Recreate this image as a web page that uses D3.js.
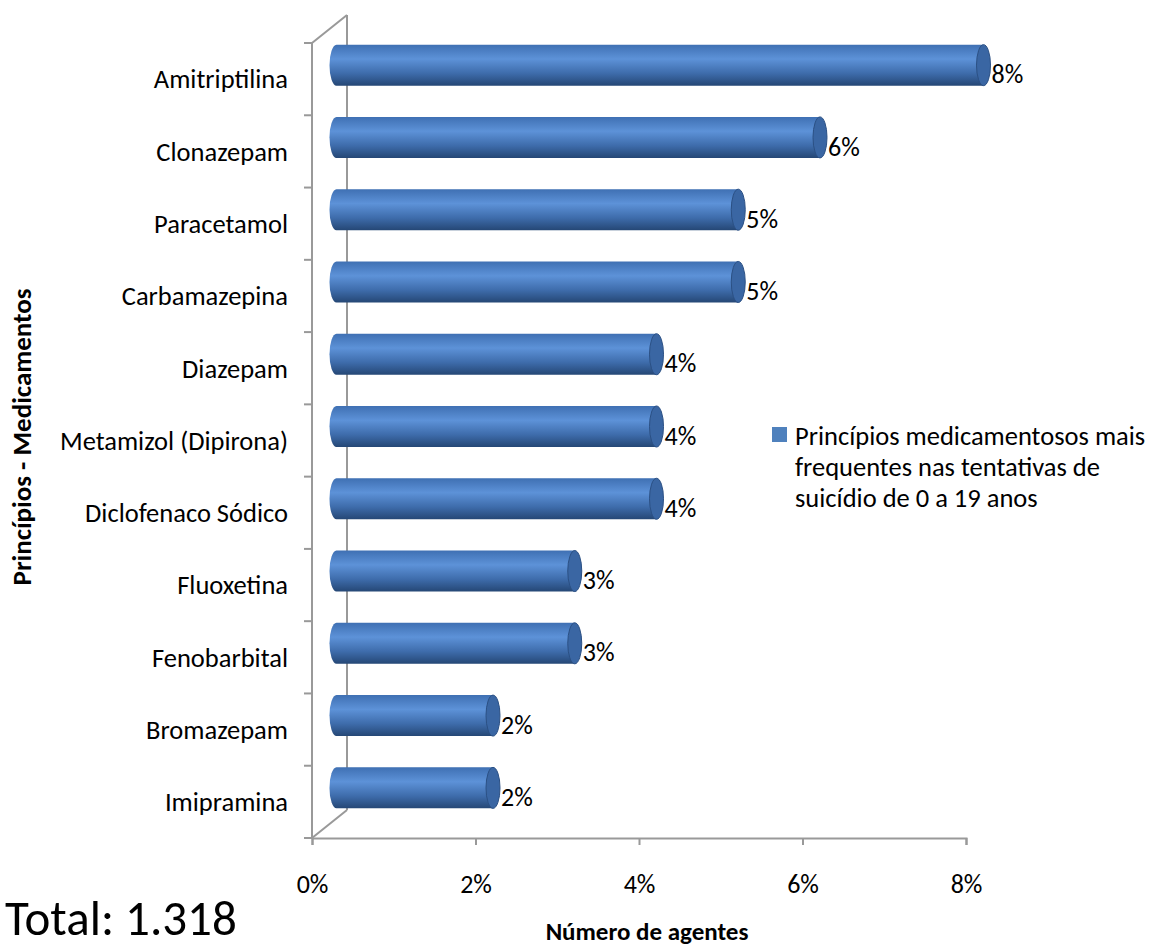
<!DOCTYPE html>
<html>
<head>
<meta charset="utf-8">
<script src="https://cdn.jsdelivr.net/npm/d3@7"></script>
<style>
  body { margin: 0; background: #fff; }
  text { font-family: Carlito, Calibri, "Open Sans", sans-serif; fill: #000; }
</style>
</head>
<body>
<script>
// chart data
let categories = ["Amitriptilina", "Clonazepam", "Paracetamol", "Carbamazepina", "Diazepam",
  "Metamizol (Dipirona)", "Diclofenaco Sódico", "Fluoxetina", "Fenobarbital", "Bromazepam", "Imipramina"]
let values = [8, 6, 5, 5, 4, 4, 4, 3, 3, 2, 2]
let valueLabels = ["8%", "6%", "5%", "5%", "4%", "4%", "4%", "3%", "3%", "2%", "2%"]
let xTicks = [0, 2, 4, 6, 8]
let legendLines = ["Princípios medicamentosos mais", "frequentes nas tentativas de", "suicídio de 0 a 19 anos"]

let width = 1151, height = 949

// 3d depth offset of the plot box
let dx = 35, dy = -28

let x = d3.scaleLinear().domain([0, 8]).range([312, 966])
let y = d3.scaleBand().domain(categories).range([43, 838])

let svg = d3.select("body").append("svg")
  .attr("width", width).attr("height", height)

let defs = svg.append("defs")
let grad = defs.append("linearGradient")
  .attr("id", "cyl").attr("x1", 0).attr("y1", 0).attr("x2", 0).attr("y2", 1)
grad.append("stop").attr("offset", "0%").attr("stop-color", "#3f70b3")
grad.append("stop").attr("offset", "35%").attr("stop-color", "#5d92d8")
grad.append("stop").attr("offset", "70%").attr("stop-color", "#3e6cab")
grad.append("stop").attr("offset", "100%").attr("stop-color", "#254775")

let axisColor = "#999"

// walls / depth lines
let walls = svg.append("g").attr("stroke", axisColor).attr("stroke-width", 2).attr("fill", "none")
walls.append("line").attr("x1", x(0)).attr("y1", 43).attr("x2", x(0)).attr("y2", 838)
walls.append("line").attr("x1", x(0) + dx).attr("y1", 43 + dy).attr("x2", x(0) + dx).attr("y2", 838 + dy)
walls.append("line").attr("x1", x(0)).attr("y1", 43).attr("x2", x(0) + dx).attr("y2", 43 + dy)
walls.append("line").attr("x1", x(0)).attr("y1", 838).attr("x2", x(0) + dx).attr("y2", 838 + dy)

// category tick marks on the front wall
walls.selectAll(".ctick")
  .data(categories.map(c => y(c)).concat([838]))
  .join("line")
  .attr("x1", x(0) - 8).attr("x2", x(0))
  .attr("y1", d => d).attr("y2", d => d)

// bottom axis
let xAxis = svg.append("g").attr("transform", "translate(0,838)")
  .call(d3.axisBottom(x).tickValues(xTicks).tickSize(7).tickPadding(30).tickFormat(d => d + "%"))
xAxis.select(".domain").attr("stroke", axisColor).attr("stroke-width", 2)
xAxis.selectAll(".tick line").attr("stroke", axisColor).attr("stroke-width", 2)
xAxis.selectAll(".tick text").attr("font-size", 26)
  .style("font-family", "Carlito, Calibri, 'Open Sans', sans-serif")

// category labels
svg.append("g").selectAll("text")
  .data(categories)
  .join("text")
  .attr("x", 288)
  .attr("y", d => y(d) + y.bandwidth() / 2)
  .attr("dy", "0.35em")
  .attr("text-anchor", "end")
  .attr("font-size", 26.5)
  .text(d => d)

// cylinders
let barH = 41, rx = 7, ry = barH / 2
let bars = svg.append("g").selectAll("g")
  .data(values.map((v, i) => ({ v: v, c: categories[i], label: valueLabels[i] })))
  .join("g")

bars.each(function (d) {
  let g = d3.select(this)
  let x0 = x(0) + dx / 2 + rx, x1 = x(d.v) + dx / 2
  let cy = y(d.c) + y.bandwidth() / 2 + dy / 2
  let top = cy - ry, bot = cy + ry
  g.append("path")
    .attr("d", `M${x0},${top} L${x1},${top} L${x1},${bot} L${x0},${bot} A${rx},${ry} 0 0 1 ${x0},${top} Z`)
    .attr("fill", "url(#cyl)")
  g.append("ellipse")
    .attr("cx", x1).attr("cy", cy).attr("rx", rx).attr("ry", ry)
    .attr("fill", "#3a66a3").attr("stroke", "#2b5084").attr("stroke-width", 1)
  g.append("text")
    .attr("x", x1 + rx + 1)
    .attr("y", cy + 9)
    .attr("dy", "0.35em")
    .attr("font-size", 26)
    .text(d.label)
})

// legend
let legend = svg.append("g")
legend.append("rect").attr("x", 772).attr("y", 427).attr("width", 15).attr("height", 15).attr("fill", "#4f81bd")
legend.selectAll("text")
  .data(legendLines)
  .join("text")
  .attr("x", 795)
  .attr("y", (d, i) => 445 + i * 31)
  .attr("font-size", 26.5)
  .text(d => d)

// axis titles
svg.append("text")
  .attr("transform", "translate(31,437) rotate(-90)")
  .attr("text-anchor", "middle")
  .attr("font-size", 27).attr("font-weight", "bold")
  .text("Princípios - Medicamentos")

svg.append("text")
  .attr("x", 647).attr("y", 940)
  .attr("text-anchor", "middle")
  .attr("font-size", 25).attr("font-weight", "bold")
  .text("Número de agentes")

svg.append("text")
  .attr("x", 5).attr("y", 935)
  .attr("font-size", 49)
  .text("Total: 1.318")
</script>
</body>
</html>
